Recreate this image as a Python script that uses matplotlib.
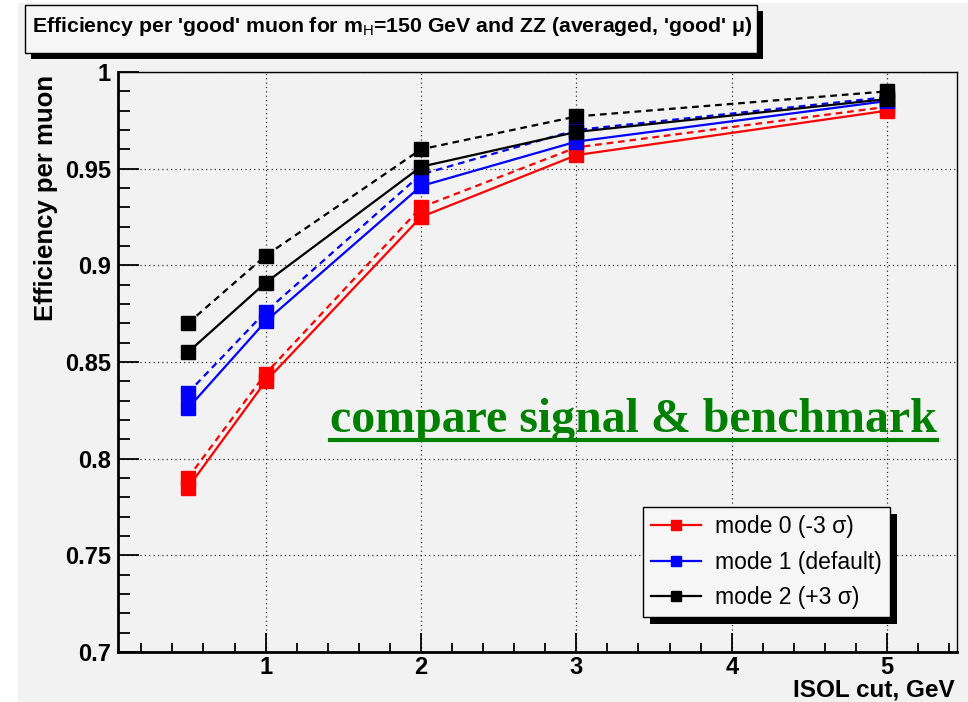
import matplotlib
matplotlib.use("Agg")
import matplotlib.pyplot as plt
from matplotlib.patches import Rectangle
from matplotlib.lines import Line2D
from matplotlib.ticker import MultipleLocator

plt.rcParams['font.family'] = ['Liberation Sans', 'DejaVu Sans']
plt.rcParams['mathtext.fontset'] = 'custom'
plt.rcParams['mathtext.rm'] = 'Liberation Sans'
plt.rcParams['mathtext.it'] = 'Liberation Sans:italic'
plt.rcParams['mathtext.bf'] = 'Liberation Sans:bold'

# isolation cut values (GeV)
isol_cut = [0.5, 1, 2, 3, 5]

# efficiency per muon, solid = signal (m_H=150), dashed = ZZ benchmark
mode0_sig = [0.785, 0.840, 0.925, 0.957, 0.980]
mode0_zz = [0.790, 0.844, 0.930, 0.961, 0.982]
mode1_sig = [0.826, 0.871, 0.941, 0.964, 0.985]
mode1_zz = [0.834, 0.876, 0.947, 0.970, 0.987]
mode2_sig = [0.855, 0.891, 0.951, 0.969, 0.986]
mode2_zz = [0.870, 0.905, 0.960, 0.977, 0.990]

labels = ['mode 0 (-3 σ)', 'mode 1 (default)', 'mode 2 (+3 σ)']
colors = ['#ff0000', '#0000ff', '#000000']

W, H = 968, 702
fig = plt.figure(figsize=(W / 100, H / 100), dpi=100, facecolor='white')


def px_rect(x0, y0, x1, y1, **kw):
    # rectangle given in pixel coordinates measured from the top-left corner
    r = Rectangle((x0 / W, 1 - y1 / H), (x1 - x0) / W, (y1 - y0) / H,
                  transform=fig.transFigure, **kw)
    fig.patches.append(r)
    return r


# grey canvas behind everything
px_rect(18, 3, W, H, facecolor='#f2f2f2', edgecolor='none', zorder=-10)

ax = fig.add_axes([118 / W, 1 - 652 / H, (957 - 118) / W, (652 - 72) / H])
ax.set_facecolor('#f2f2f2')
ax.set_zorder(1)

series = [(mode0_sig, mode0_zz), (mode1_sig, mode1_zz), (mode2_sig, mode2_zz)]
handles = []
for (sig, zz), c, lab in zip(series, colors, labels):
    h, = ax.plot(isol_cut, sig, color=c, lw=1.6, marker='s', ms=9.5, mec=c, label=lab)
    ax.plot(isol_cut, zz, color=c, lw=1.6, ls=(0, (3, 2.2)), marker='s', ms=9.5, mec=c)
    handles.append(h)

ax.set_xlim(0.05, 5.45)
ax.set_ylim(0.7, 1.0)
ax.xaxis.set_major_locator(MultipleLocator(1))
ax.xaxis.set_minor_locator(MultipleLocator(0.2))
ax.yaxis.set_minor_locator(MultipleLocator(0.01))
ax.set_yticks([0.7, 0.75, 0.8, 0.85, 0.9, 0.95, 1.0])
ax.set_yticklabels(['0.7', '0.75', '0.8', '0.85', '0.9', '0.95', '1'])

ax.tick_params(axis='both', which='both', direction='in', top=False, right=False,
               width=1.3, labelsize=17, colors='black')
ax.tick_params(axis='y', which='major', length=15, pad=5)
ax.tick_params(axis='y', which='minor', length=8.5)
ax.tick_params(axis='x', which='major', length=14, pad=3)
ax.tick_params(axis='x', which='minor', length=6.5)
for lbl in ax.get_xticklabels() + ax.get_yticklabels():
    lbl.set_fontweight('bold')

ax.grid(True, which='major', ls=(0, (1, 2.5)), color='#333333', lw=0.9)
for side in ['left', 'bottom']:
    ax.spines[side].set_linewidth(2)
for side in ['top', 'right']:
    ax.spines[side].set_linewidth(1)

# axis titles
fig.text(46 / W, 1 - 75 / H, 'Efficiency per muon', rotation=90, ha='center', va='top',
         fontsize=18.5, fontweight='bold')
fig.text(955 / W, 1 - 701 / H, 'ISOL cut, GeV', ha='right', va='bottom',
         fontsize=17.5, fontweight='bold')

# annotation
fig.text(330 / W, 1 - 432 / H, 'compare signal & benchmark', ha='left', va='baseline',
         fontsize=34.5, fontweight='bold', family='Liberation Serif', color='#008000', zorder=6)
fig.add_artist(Line2D([330 / W, 937 / W], [1 - 440 / H, 1 - 440 / H], color='#008000',
                      lw=3, zorder=6))

# title box with drop shadow
px_rect(31, 11, 763, 59, facecolor='black', edgecolor='none', zorder=-5)
px_rect(25, 5, 757, 53, facecolor='#f6f6f6', edgecolor='black', lw=1, zorder=-4)
fig.text(32 / W, 1 - 27 / H,
         "Efficiency per 'good' muon for m$_{\\mathrm{H}}$=150 GeV and ZZ (averaged, 'good' μ)",
         ha='left', va='center', fontsize=15.3, fontweight='bold')

leg = fig.legend(handles=handles, loc='upper left', bbox_to_anchor=(643 / W, 1 - 507 / H),
                 fontsize=16.5, frameon=True, fancybox=False,
                 edgecolor='black', facecolor='#f6f6f6', framealpha=1, handlelength=2.2,
                 markerscale=0.7, borderpad=0.35, labelspacing=0.55, handletextpad=0.6,
                 borderaxespad=0)
leg.get_frame().set_linewidth(1)
leg.set_zorder(10)

# black drop shadow under the legend
fig.canvas.draw()
inv = fig.transFigure.inverted()
bb = leg.get_window_extent()
(x0, y0), (x1, y1) = inv.transform([[bb.x0 + 7, bb.y0 - 7], [bb.x1 + 7, bb.y1 - 7]])
fig.patches.append(Rectangle((x0, y0), x1 - x0, y1 - y0, transform=fig.transFigure,
                             facecolor='black', edgecolor='none', zorder=5))

fig.savefig('out.png', dpi=100, facecolor=fig.get_facecolor())
